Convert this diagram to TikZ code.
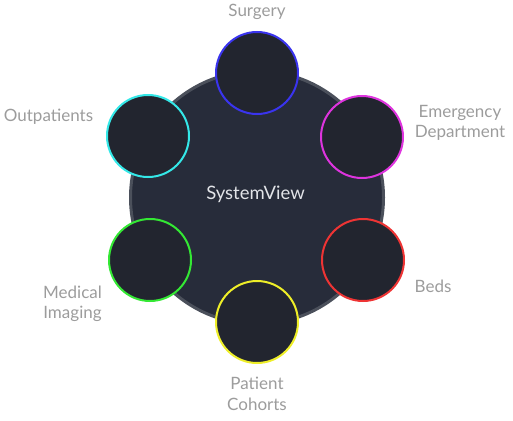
\documentclass[tikz,border=0pt]{standalone}
\usepackage{fontspec}
\setmainfont{Lato}
\usepackage{tikz}

\definecolor{hubfill}{HTML}{272C3A}
\definecolor{hubline}{HTML}{4B505B}
\definecolor{unitfill}{HTML}{22252F}
\definecolor{labelgray}{HTML}{9C9C9C}
\definecolor{hubtext}{HTML}{E2E4E8}

\begin{document}
\begin{tikzpicture}[x=1pt, y=-1pt,
  unit/.style={circle, draw, line width=2pt, fill=unitfill, minimum size=82pt, inner sep=0pt},
  lbl/.style={text=labelgray, align=center, font=\fontsize{17}{20.5}\selectfont}]
\useasboundingbox (0,0) rectangle (513,420);

\node[circle, draw=hubline, line width=3pt, fill=hubfill, minimum size=253pt, inner sep=0pt] (hub) at (257,197.5) {};
\node[text=hubtext, font=\fontsize{18.5}{20}\selectfont] (hubname) at (255.5,194) {SystemView};

\node[unit, draw={rgb,255:red,58;green,52;blue,238}] (surgery) at (257,73) {};
\node[unit, draw={rgb,255:red,222;green,52;blue,222}] (emergency) at (362,137) {};
\node[unit, draw={rgb,255:red,238;green,52;blue,52}] (beds) at (363,260) {};
\node[unit, draw={rgb,255:red,238;green,238;blue,40}] (cohorts) at (257,322) {};
\node[unit, draw={rgb,255:red,52;green,232;blue,52}] (imaging) at (150,260) {};
\node[unit, draw={rgb,255:red,52;green,232;blue,232}] (outpatients) at (148,136) {};

\node[lbl] (surgerylbl) at (257,12) {Surgery};
\node[lbl] (emergencylbl) at (460,123) {Emergency\\Department};
\node[lbl] (bedslbl) at (433,286) {Beds};
\node[lbl] (cohortslbl) at (257,394) {Patient\\Cohorts};
\node[lbl] (imaginglbl) at (72.5,304) {Medical\\Imaging};
\node[lbl] (outpatientslbl) at (48.5,117) {Outpatients};
\end{tikzpicture}
\end{document}
